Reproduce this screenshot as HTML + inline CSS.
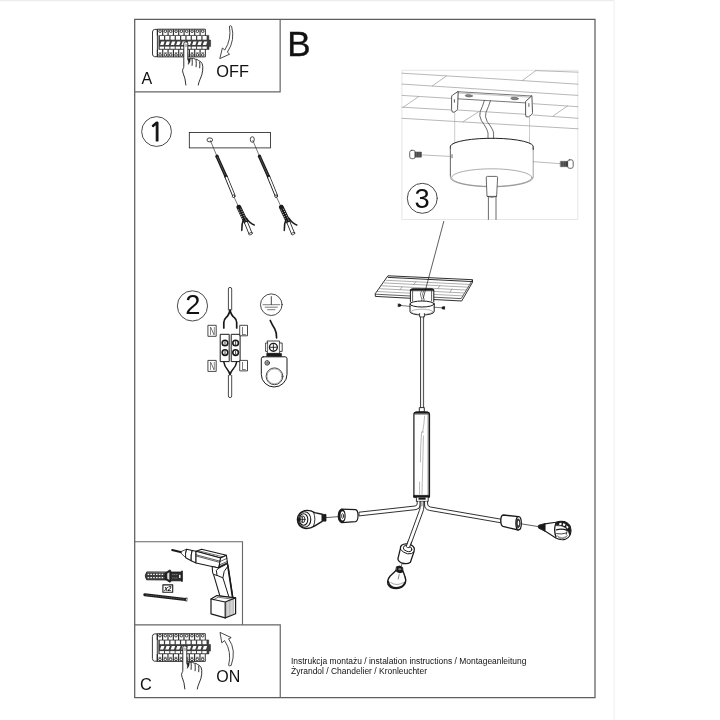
<!DOCTYPE html>
<html lang="pl"><head><meta charset="utf-8"><title>Instrukcja montażu</title>
<style>html,body{margin:0;padding:0;background:#fff}svg{display:block;filter:grayscale(1)}</style></head>
<body><svg width="720" height="720" viewBox="0 0 720 720">
<rect width="720" height="720" fill="#fff"/>
<g fill="none" stroke="#5e5e5e" stroke-width="1.25">
<path d="M134.7 19.45 H595 V697.5 H134.7 Z"/>
</g>
<g fill="none" stroke="#666" stroke-width="1.2">
<path d="M280.15 19.4V91.85H134.7"/>
<path d="M134.7 541.7H242.5V624.9" stroke-width="1.1"/>
<path d="M134.7 624.9H280.25V697.5"/>
</g>
<rect x="0" y="0" width="614" height="1.2" fill="#ececec"/>
<rect x="613.5" y="0" width="1.4" height="720" fill="#f4f4f4"/>
<g transform="translate(152.2 29.2)" stroke="#222" fill="none" stroke-width="0.9" stroke-linejoin="round"><path d="M5.2 0.2 H2.4 Q0.3 0.5 0.3 2.8 V24.8 Q0.3 27.2 2.4 27.5 H5.2" fill="#fff" stroke-width="0.9"/><rect x="5.2" y="0" width="48" height="27.7" fill="#fff"/><path d="M6.6 6.2 H56.6 V10.8 H58.4 V17.4 H56.8 V20.2 H6.6 Z" fill="#3c3c3c" stroke-width="0.5"/><path d="M5.20 0V6.2" stroke-width="1.1"/><circle cx="7.87" cy="2" r="1.3" stroke-width="0.9"/><rect x="7.70" y="6.8" width="4.1" height="3.7" fill="#fff" stroke="none"/><path d="M7.90 15.9 L9.10 12.4 H12.40 L11.20 15.9 Z" fill="#fff" stroke="none"/><rect x="7.50" y="17.4" width="4.4" height="2.2" fill="#fff" stroke="none"/><path d="M5.20 20.2V27.7" stroke-width="1.1"/><circle cx="7.87" cy="25.7" r="1.3" stroke-width="0.9"/><path d="M6.40 23.6 H9.33" stroke-width="0.6"/><path d="M10.53 0V6.2" stroke-width="1.1"/><circle cx="13.20" cy="2" r="1.3" stroke-width="0.9"/><rect x="13.03" y="6.8" width="4.1" height="3.7" fill="#fff" stroke="none"/><path d="M13.23 15.9 L14.43 12.4 H17.73 L16.53 15.9 Z" fill="#fff" stroke="none"/><rect x="12.83" y="17.4" width="4.4" height="2.2" fill="#fff" stroke="none"/><path d="M10.53 20.2V27.7" stroke-width="1.1"/><circle cx="13.20" cy="25.7" r="1.3" stroke-width="0.9"/><path d="M11.73 23.6 H14.67" stroke-width="0.6"/><path d="M15.87 0V6.2" stroke-width="1.1"/><circle cx="18.53" cy="2" r="1.3" stroke-width="0.9"/><rect x="18.37" y="6.8" width="4.1" height="3.7" fill="#fff" stroke="none"/><path d="M18.57 15.9 L19.77 12.4 H23.07 L21.87 15.9 Z" fill="#fff" stroke="none"/><rect x="18.17" y="17.4" width="4.4" height="2.2" fill="#fff" stroke="none"/><path d="M15.87 20.2V27.7" stroke-width="1.1"/><circle cx="18.53" cy="25.7" r="1.3" stroke-width="0.9"/><path d="M17.07 23.6 H20.00" stroke-width="0.6"/><path d="M21.20 0V6.2" stroke-width="1.1"/><circle cx="23.87" cy="2" r="1.3" stroke-width="0.9"/><rect x="23.70" y="6.8" width="4.1" height="3.7" fill="#fff" stroke="none"/><path d="M23.90 15.9 L25.10 12.4 H28.40 L27.20 15.9 Z" fill="#fff" stroke="none"/><rect x="23.50" y="17.4" width="4.4" height="2.2" fill="#fff" stroke="none"/><path d="M21.20 20.2V27.7" stroke-width="1.1"/><circle cx="23.87" cy="25.7" r="1.3" stroke-width="0.9"/><path d="M22.40 23.6 H25.33" stroke-width="0.6"/><path d="M26.53 0V6.2" stroke-width="1.1"/><circle cx="29.20" cy="2" r="1.3" stroke-width="0.9"/><rect x="29.03" y="6.8" width="4.1" height="3.7" fill="#fff" stroke="none"/><path d="M29.23 15.9 L30.43 12.4 H33.73 L32.53 15.9 Z" fill="#fff" stroke="none"/><rect x="28.83" y="17.4" width="4.4" height="2.2" fill="#fff" stroke="none"/><path d="M26.53 20.2V27.7" stroke-width="1.1"/><circle cx="29.20" cy="25.7" r="1.3" stroke-width="0.9"/><path d="M27.73 23.6 H30.67" stroke-width="0.6"/><path d="M31.87 0V6.2" stroke-width="1.1"/><circle cx="34.53" cy="2" r="1.3" stroke-width="0.9"/><rect x="34.37" y="6.8" width="4.1" height="3.7" fill="#fff" stroke="none"/><path d="M34.57 15.9 L35.77 12.4 H39.07 L37.87 15.9 Z" fill="#fff" stroke="none"/><rect x="34.17" y="17.4" width="4.4" height="2.2" fill="#fff" stroke="none"/><path d="M31.87 20.2V27.7" stroke-width="1.1"/><circle cx="34.53" cy="25.7" r="1.3" stroke-width="0.9"/><path d="M33.07 23.6 H36.00" stroke-width="0.6"/><path d="M37.20 0V6.2" stroke-width="1.1"/><circle cx="39.87" cy="2" r="1.3" stroke-width="0.9"/><rect x="39.70" y="6.8" width="4.1" height="3.7" fill="#fff" stroke="none"/><path d="M39.90 15.9 L41.10 12.4 H44.40 L43.20 15.9 Z" fill="#fff" stroke="none"/><rect x="39.50" y="17.4" width="4.4" height="2.2" fill="#fff" stroke="none"/><path d="M37.20 20.2V27.7" stroke-width="1.1"/><circle cx="39.87" cy="25.7" r="1.3" stroke-width="0.9"/><path d="M38.40 23.6 H41.33" stroke-width="0.6"/><path d="M42.53 0V6.2" stroke-width="1.1"/><circle cx="45.20" cy="2" r="1.3" stroke-width="0.9"/><rect x="45.03" y="6.8" width="4.1" height="3.7" fill="#fff" stroke="none"/><path d="M45.23 15.9 L46.43 12.4 H49.73 L48.53 15.9 Z" fill="#fff" stroke="none"/><rect x="44.83" y="17.4" width="4.4" height="2.2" fill="#fff" stroke="none"/><path d="M42.53 20.2V27.7" stroke-width="1.1"/><circle cx="45.20" cy="25.7" r="1.3" stroke-width="0.9"/><path d="M43.73 23.6 H46.67" stroke-width="0.6"/><path d="M47.87 0V6.2" stroke-width="1.1"/><circle cx="50.53" cy="2" r="1.3" stroke-width="0.9"/><rect x="50.37" y="6.8" width="4.1" height="3.7" fill="#fff" stroke="none"/><path d="M50.57 15.9 L51.77 12.4 H55.07 L53.87 15.9 Z" fill="#fff" stroke="none"/><rect x="50.17" y="17.4" width="4.4" height="2.2" fill="#fff" stroke="none"/><path d="M47.87 20.2V27.7" stroke-width="1.1"/><circle cx="50.53" cy="25.7" r="1.3" stroke-width="0.9"/><path d="M49.07 23.6 H52.00" stroke-width="0.6"/></g>
<g transform="translate(183.7 41.8)" stroke="#1a1a1a" fill="#fff" stroke-width="0.9" stroke-linejoin="round" stroke-linecap="round"><path d="M2.2 43.2 Q1.6 36 -0.6 31.4 Q-1.8 28.6 -0.6 26.8 Q0.1 26 0.1 24.4 V1.8 Q0.1 0 2.1 0 Q4.1 0 4.1 1.8 V17.4 Q6 15.8 8.2 16.6 Q9.8 16.0 11.4 17.4 Q13.6 17.2 15 18.8 Q17.2 19.4 18.4 21.8 Q19.4 24 19 28.4 Q18.6 33 16.4 37.4 Q15 40.4 14.6 43.2" /><path d="M8.4 17.4 Q8.8 20.4 8.4 23.6 M12.4 18.6 Q12.8 21.4 12.4 25 M16 20.4 Q16.4 23 16 26" fill="none"/><path d="M4.1 17.4 Q5.2 19.8 4.6 22.6 Q6.8 20.4 6.6 17" fill="#1a1a1a" stroke-width="0.5"/><path d="M0.9 2.2 Q2.1 1.2 3.3 2.2 V5.2 H0.9 Z" fill="#bbb" stroke="none"/></g>
<path d="M229.4 26.2 Q230.6 25.2 231.6 26.4 Q235.4 40 227.4 52.2 L229.6 54.2 L219.8 58.6 L222.4 48 L224.8 50 Q231.6 39.6 229.4 26.2 Z" fill="#fff" stroke="#1a1a1a" stroke-width="0.8" stroke-linejoin="round"/>
<circle cx="156.55" cy="131.55" r="14.9" fill="none" stroke="#4a4a4a" stroke-width="1"/>
<rect x="189.3" y="132.4" width="81.2" height="15.5" fill="none" stroke="#1a1a1a" stroke-width="0.8"/>
<ellipse cx="209.8" cy="139.9" rx="2.8" ry="2" fill="none" stroke="#1a1a1a" stroke-width="0.8"/>
<ellipse cx="252.3" cy="139.5" rx="2" ry="2.8" fill="none" stroke="#1a1a1a" stroke-width="0.8"/>
<g transform="translate(0 0)" stroke="#1a1a1a" fill="none" stroke-linecap="round"><path d="M210.4 140.6 L216.6 155.4" stroke-width="0.6"/><circle cx="217" cy="156.2" r="1.6" fill="#1a1a1a" stroke="none"/><path d="M217.2 156.8 L226.2 177" stroke-width="3.1"/><path d="M217.4 157.2 L226 176.6" stroke="#999" stroke-width="0.5" stroke-dasharray="0.6 1.1"/><path d="M226 176.6 L233.8 195.6" stroke-width="3.3"/><path d="M226.5 177.6 L233.5 194.8" stroke="#fff" stroke-width="1.7"/><circle cx="233.6" cy="196.2" r="1.3" fill="#fff" stroke-width="0.8"/><path d="M234.2 197.4 L238.4 206.4" stroke-width="0.6"/><path d="M238.9 207.2 L245.6 221.4" stroke-width="4.8"/><path d="M238.5 209.6 L244.2 221.8" stroke="#fff" stroke-width="0.9" stroke-dasharray="0.9 1.5" stroke-linecap="butt"/><path d="M240.7 208.8 L246.4 220.8" stroke="#fff" stroke-width="0.9" stroke-dasharray="0.9 1.5" stroke-linecap="butt"/><path d="M245.6 221.4 L250.6 233.8" stroke-width="3.9" stroke-linecap="butt"/><path d="M245.9 222.2 L250.4 233.2" stroke="#fff" stroke-width="2.3" stroke-linecap="butt"/><ellipse cx="250.6" cy="233.7" rx="1.9" ry="1" transform="rotate(-22 250.6 233.7)" fill="#fff" stroke-width="0.7"/><path d="M243.8 218.6 Q241.4 224 241.8 230.4" stroke-width="1.5"/><path d="M246.4 218.2 Q249.6 223.4 254.2 225" stroke-width="1.5"/></g>
<g transform="translate(42.5 0)" stroke="#1a1a1a" fill="none" stroke-linecap="round"><path d="M210.4 140.6 L216.6 155.4" stroke-width="0.6"/><circle cx="217" cy="156.2" r="1.6" fill="#1a1a1a" stroke="none"/><path d="M217.2 156.8 L226.2 177" stroke-width="3.1"/><path d="M217.4 157.2 L226 176.6" stroke="#999" stroke-width="0.5" stroke-dasharray="0.6 1.1"/><path d="M226 176.6 L233.8 195.6" stroke-width="3.3"/><path d="M226.5 177.6 L233.5 194.8" stroke="#fff" stroke-width="1.7"/><circle cx="233.6" cy="196.2" r="1.3" fill="#fff" stroke-width="0.8"/><path d="M234.2 197.4 L238.4 206.4" stroke-width="0.6"/><path d="M238.9 207.2 L245.6 221.4" stroke-width="4.8"/><path d="M238.5 209.6 L244.2 221.8" stroke="#fff" stroke-width="0.9" stroke-dasharray="0.9 1.5" stroke-linecap="butt"/><path d="M240.7 208.8 L246.4 220.8" stroke="#fff" stroke-width="0.9" stroke-dasharray="0.9 1.5" stroke-linecap="butt"/><path d="M245.6 221.4 L250.6 233.8" stroke-width="3.9" stroke-linecap="butt"/><path d="M245.9 222.2 L250.4 233.2" stroke="#fff" stroke-width="2.3" stroke-linecap="butt"/><ellipse cx="250.6" cy="233.7" rx="1.9" ry="1" transform="rotate(-22 250.6 233.7)" fill="#fff" stroke-width="0.7"/><path d="M243.8 218.6 Q241.4 224 241.8 230.4" stroke-width="1.5"/><path d="M246.4 218.2 Q249.6 223.4 254.2 225" stroke-width="1.5"/></g>
<circle cx="192.45" cy="305.9" r="15.1" fill="none" stroke="#4a4a4a" stroke-width="1"/>
<g stroke="#1a1a1a" fill="none" stroke-linecap="round" stroke-linejoin="round"><path d="M228.4 310 V289 Q228.4 287.4 230 287.4 Q231.7 287.4 231.7 289 V310" stroke-width="0.8" fill="#fff"/><path d="M230 310 Q228.8 315.5 226 317.6 Q223.8 319.6 223.8 322.4 V328" stroke-width="1.7"/><path d="M230 310 Q231.2 315.5 234.4 317.6 Q236.7 319.6 236.7 322.4 V328" stroke-width="1.7"/><rect x="220.6" y="334.3" width="8.6" height="27.3" stroke-width="1" fill="#fff"/><rect x="231.6" y="334.3" width="8.5" height="27.3" stroke-width="1" fill="#fff"/><circle cx="225" cy="343" r="2.8" stroke-width="1.6" fill="#fff"/><path d="M225 341.5V344.5" stroke-width="0.8"/><circle cx="225" cy="352.6" r="2.8" stroke-width="1.6" fill="#fff"/><path d="M225 351.1V354.1" stroke-width="0.8"/><circle cx="235.6" cy="343" r="2.8" stroke-width="1.6" fill="#fff"/><path d="M235.6 341.5V344.5" stroke-width="0.8"/><circle cx="235.6" cy="352.6" r="2.8" stroke-width="1.6" fill="#fff"/><path d="M235.6 351.1V354.1" stroke-width="0.8"/><path d="M228.6 346.6 L232 349.4 M232 346.6 L228.6 349.4" stroke-width="0.5" stroke="#888"/><rect x="208.3" y="325.3" width="7.9" height="11" stroke-width="0.9" stroke="#333" fill="#fff"/><rect x="240.1" y="325.3" width="7.4" height="10.5" stroke-width="0.9" stroke="#333" fill="#fff"/><rect x="208.3" y="360.4" width="7.9" height="11" stroke-width="0.9" stroke="#333" fill="#fff"/><rect x="240.1" y="360.4" width="7.4" height="10.5" stroke-width="0.9" stroke="#333" fill="#fff"/><path d="M223.8 361.8 Q224.4 366 227.4 369.6 Q229.4 372 230 375" stroke-width="1.5"/><path d="M236.7 361.8 Q236 366 232.8 369.6 Q230.6 372 230 375" stroke-width="1.5"/><path d="M228.4 375.4 V396 Q228.4 397.6 230 397.6 Q231.7 397.6 231.7 396 V375.4" stroke-width="0.8" fill="#fff"/><circle cx="271.3" cy="304.7" r="10.8" stroke-width="0.8"/><path d="M271.3 296.6V304.6" stroke-width="0.8"/><path d="M263 304.7H279.7 M265.2 307.2H277.4 M267.6 309.7H275" stroke-width="0.7" stroke="#444"/><path d="M270.2 320.4 Q272.2 325 274.8 329 Q276.8 332.6 276.6 338" stroke-width="1.6"/><path d="M267.4 341 H279.6 V343 H282.2 V351.4 H279.6 V353.4 H267.4 V351.4 H265.6 V343 H267.4 Z" stroke-width="0.8" fill="#fff"/><circle cx="273.4" cy="347.3" r="3.9" stroke-width="1.4" fill="#fff"/><path d="M273.4 344.6V350 M270.7 347.3H276.1" stroke-width="0.9"/><path d="M267.6 343.4V351 M279.4 343.4V351" stroke-width="0.7"/><rect x="266.8" y="353.4" width="14.8" height="3.3" fill="#1a1a1a" stroke-width="0.5"/><path d="M263.2 356.8 H285.2 Q287 356.8 287 358.8 V374.4 A12.85 12.6 0 0 1 261.3 374.4 V358.8 Q261.3 356.8 263.2 356.8 Z" stroke-width="1" fill="#fff"/><circle cx="274.5" cy="376.3" r="8.4" stroke-width="0.8"/><circle cx="274.5" cy="376.3" r="7.4" stroke-width="0.5" stroke="#666"/><circle cx="267.2" cy="362.9" r="2.3" stroke-width="0.8"/><path d="M267.2 361V362.8 M265.6 362.9H268.8 M266.2 364H268.2" stroke-width="0.6"/></g>
<g stroke="#1a1a1a" fill="none" stroke-linecap="round" stroke-linejoin="round" stroke-width="0.8"><path d="M172.2 550 L181.4 552.3" stroke-width="2.1"/><path d="M181.4 551.4 L186.6 549.2 Q185 553.4 185.7 557.7 L181.4 553.6 Z" fill="#fff"/><path d="M186.6 549.2 L192.2 550.4 Q190.6 555.4 191.2 560.7 L185.7 557.7 Q185 553.4 186.6 549.2 Z" fill="#fff" stroke-width="1.05"/><path d="M192.2 550.4 L196 551.2 V563 L191.2 560.7 Q190.6 555.4 192.2 550.4 Z" fill="#fff" stroke-width="1.05"/><path d="M196 551.2 L201.6 549.3 L226.4 555.3 L220.6 558 Z" fill="#fff" stroke-width="1.05"/><path d="M199.4 551 L223.6 557" stroke-width="0.6"/><path d="M196 551.2 L220.6 558 L218.8 568 L196 563 Z" fill="#fff" stroke-width="1.05"/><path d="M196.2 554.8 L220 561.2 M196.2 556 L219.8 562.4" stroke-width="0.7"/><path d="M220.6 558 L226.4 555.3 L227.6 563.6 L218.8 568 Z" fill="#fff" stroke-width="1.05"/><path d="M220.4 561.4 L226.8 558.4 M219.4 565 L227.2 561.4" stroke-width="0.7"/><path d="M219 566.6 L227.4 562.6 L227.6 563.8 L218.8 568 Z" fill="#1a1a1a" stroke-width="0.5"/><path d="M212.2 566.6 L212.6 572.4 L214.2 576.6 L219.9 596 L232.9 597.9 L227.6 563.6 L218.8 568 Z" fill="#fff" stroke-width="1.05"/><path d="M214.2 574.6 L217 575.4 L222.9 577.8 L228.8 596.6 M217 575.4 L216.4 570.4 L218.8 568 M222.9 577.8 L224.2 571.4 L227.6 566.6" stroke-width="1"/><path d="M227.8 565.4 L232.6 597.4" stroke-width="1.7"/><path d="M211 599 L216.9 595.6 L235.6 597.9 L235.6 613.8 L225.2 617.9 L211 613.8 Z" fill="#fff" stroke-width="1.2"/><path d="M211 599 L225.2 602 L235.6 597.9 M225.2 602 V617.9" stroke-width="1.2"/><path d="M213.6 599.8 L218 597.2 L232.6 599.2" stroke-width="0.6"/><path d="M226.6 602.4 V617 M228 601.8 V616.6 M229.4 601.2 V616 M230.8 600.6 V615.4 M232.2 600 V614.8 M233.6 599.6 V614.4" stroke-width="0.5" stroke="#666"/><path d="M146.6 572.2 Q143.8 575.8 146.6 579.8 L166.4 580 L166.4 572.4 Z" fill="#3d3d3d" stroke-width="0.8"/><path d="M147.6 574.4 H165.6 M147.6 577.6 H165.6" stroke="#f4f4f4" stroke-width="1.3" stroke-dasharray="1.6 1.2" stroke-linecap="butt"/><path d="M164.6 573.2 L169.6 570 L170.8 570.4 V581.8 L169.6 582.2 L164.6 579 Z" fill="#222" stroke-width="0.7"/><path d="M167.2 573.6 L169.4 572.2 V580 L167.2 578.6 Z" fill="#ddd" stroke="none"/><rect x="170.8" y="572" width="11" height="8.8" fill="#2e2e2e" stroke-width="0.8"/><path d="M172.4 574.6 H178 M172.4 578 H178" stroke="#bbb" stroke-width="0.8" stroke-dasharray="1 1" stroke-linecap="butt"/><rect x="179" y="574.8" width="1.5" height="3.2" fill="#eee" stroke="none"/><path d="M182 571.2 V581.3" stroke-width="1.5"/><rect x="162.9" y="584.9" width="9.8" height="7.3" fill="#fff" stroke-width="1.1"/><path d="M144.8 594.7 L185.6 599.4" stroke-width="3"/><path d="M146 594.9 L184 599.2" stroke="#888" stroke-width="0.5" stroke-dasharray="0.5 1.3"/><path d="M186.6 597.6 L186.2 601.4" stroke-width="2" stroke="#333" stroke-linecap="butt"/><path d="M186.7 598.5 L186.5 600.5" stroke-width="0.9" stroke="#ddd" stroke-linecap="butt"/></g>
<g transform="translate(152.1 633.7)" stroke="#222" fill="none" stroke-width="0.9" stroke-linejoin="round"><path d="M5.2 0.2 H2.4 Q0.3 0.5 0.3 2.8 V24.8 Q0.3 27.2 2.4 27.5 H5.2" fill="#fff" stroke-width="0.9"/><rect x="5.2" y="0" width="48" height="27.7" fill="#fff"/><path d="M6.6 6.2 H56.6 V10.8 H58.4 V17.4 H56.8 V20.2 H6.6 Z" fill="#3c3c3c" stroke-width="0.5"/><path d="M5.20 0V6.2" stroke-width="1.1"/><circle cx="7.87" cy="2" r="1.3" stroke-width="0.9"/><rect x="7.70" y="6.8" width="4.1" height="3.7" fill="#fff" stroke="none"/><path d="M7.90 15.9 L9.10 12.4 H12.40 L11.20 15.9 Z" fill="#fff" stroke="none"/><rect x="7.50" y="17.4" width="4.4" height="2.2" fill="#fff" stroke="none"/><path d="M5.20 20.2V27.7" stroke-width="1.1"/><circle cx="7.87" cy="25.7" r="1.3" stroke-width="0.9"/><path d="M6.40 23.6 H9.33" stroke-width="0.6"/><path d="M10.53 0V6.2" stroke-width="1.1"/><circle cx="13.20" cy="2" r="1.3" stroke-width="0.9"/><rect x="13.03" y="6.8" width="4.1" height="3.7" fill="#fff" stroke="none"/><path d="M13.23 15.9 L14.43 12.4 H17.73 L16.53 15.9 Z" fill="#fff" stroke="none"/><rect x="12.83" y="17.4" width="4.4" height="2.2" fill="#fff" stroke="none"/><path d="M10.53 20.2V27.7" stroke-width="1.1"/><circle cx="13.20" cy="25.7" r="1.3" stroke-width="0.9"/><path d="M11.73 23.6 H14.67" stroke-width="0.6"/><path d="M15.87 0V6.2" stroke-width="1.1"/><circle cx="18.53" cy="2" r="1.3" stroke-width="0.9"/><rect x="18.37" y="6.8" width="4.1" height="3.7" fill="#fff" stroke="none"/><path d="M18.57 15.9 L19.77 12.4 H23.07 L21.87 15.9 Z" fill="#fff" stroke="none"/><rect x="18.17" y="17.4" width="4.4" height="2.2" fill="#fff" stroke="none"/><path d="M15.87 20.2V27.7" stroke-width="1.1"/><circle cx="18.53" cy="25.7" r="1.3" stroke-width="0.9"/><path d="M17.07 23.6 H20.00" stroke-width="0.6"/><path d="M21.20 0V6.2" stroke-width="1.1"/><circle cx="23.87" cy="2" r="1.3" stroke-width="0.9"/><rect x="23.70" y="6.8" width="4.1" height="3.7" fill="#fff" stroke="none"/><path d="M23.90 15.9 L25.10 12.4 H28.40 L27.20 15.9 Z" fill="#fff" stroke="none"/><rect x="23.50" y="17.4" width="4.4" height="2.2" fill="#fff" stroke="none"/><path d="M21.20 20.2V27.7" stroke-width="1.1"/><circle cx="23.87" cy="25.7" r="1.3" stroke-width="0.9"/><path d="M22.40 23.6 H25.33" stroke-width="0.6"/><path d="M26.53 0V6.2" stroke-width="1.1"/><circle cx="29.20" cy="2" r="1.3" stroke-width="0.9"/><rect x="29.03" y="6.8" width="4.1" height="3.7" fill="#fff" stroke="none"/><path d="M29.23 15.9 L30.43 12.4 H33.73 L32.53 15.9 Z" fill="#fff" stroke="none"/><rect x="28.83" y="17.4" width="4.4" height="2.2" fill="#fff" stroke="none"/><path d="M26.53 20.2V27.7" stroke-width="1.1"/><circle cx="29.20" cy="25.7" r="1.3" stroke-width="0.9"/><path d="M27.73 23.6 H30.67" stroke-width="0.6"/><path d="M31.87 0V6.2" stroke-width="1.1"/><circle cx="34.53" cy="2" r="1.3" stroke-width="0.9"/><rect x="34.37" y="6.8" width="4.1" height="3.7" fill="#fff" stroke="none"/><path d="M34.57 15.9 L35.77 12.4 H39.07 L37.87 15.9 Z" fill="#fff" stroke="none"/><rect x="34.17" y="17.4" width="4.4" height="2.2" fill="#fff" stroke="none"/><path d="M31.87 20.2V27.7" stroke-width="1.1"/><circle cx="34.53" cy="25.7" r="1.3" stroke-width="0.9"/><path d="M33.07 23.6 H36.00" stroke-width="0.6"/><path d="M37.20 0V6.2" stroke-width="1.1"/><circle cx="39.87" cy="2" r="1.3" stroke-width="0.9"/><rect x="39.70" y="6.8" width="4.1" height="3.7" fill="#fff" stroke="none"/><path d="M39.90 15.9 L41.10 12.4 H44.40 L43.20 15.9 Z" fill="#fff" stroke="none"/><rect x="39.50" y="17.4" width="4.4" height="2.2" fill="#fff" stroke="none"/><path d="M37.20 20.2V27.7" stroke-width="1.1"/><circle cx="39.87" cy="25.7" r="1.3" stroke-width="0.9"/><path d="M38.40 23.6 H41.33" stroke-width="0.6"/><path d="M42.53 0V6.2" stroke-width="1.1"/><circle cx="45.20" cy="2" r="1.3" stroke-width="0.9"/><rect x="45.03" y="6.8" width="4.1" height="3.7" fill="#fff" stroke="none"/><path d="M45.23 15.9 L46.43 12.4 H49.73 L48.53 15.9 Z" fill="#fff" stroke="none"/><rect x="44.83" y="17.4" width="4.4" height="2.2" fill="#fff" stroke="none"/><path d="M42.53 20.2V27.7" stroke-width="1.1"/><circle cx="45.20" cy="25.7" r="1.3" stroke-width="0.9"/><path d="M43.73 23.6 H46.67" stroke-width="0.6"/><path d="M47.87 0V6.2" stroke-width="1.1"/><circle cx="50.53" cy="2" r="1.3" stroke-width="0.9"/><rect x="50.37" y="6.8" width="4.1" height="3.7" fill="#fff" stroke="none"/><path d="M50.57 15.9 L51.77 12.4 H55.07 L53.87 15.9 Z" fill="#fff" stroke="none"/><rect x="50.17" y="17.4" width="4.4" height="2.2" fill="#fff" stroke="none"/><path d="M47.87 20.2V27.7" stroke-width="1.1"/><circle cx="50.53" cy="25.7" r="1.3" stroke-width="0.9"/><path d="M49.07 23.6 H52.00" stroke-width="0.6"/></g>
<g transform="translate(182.7 645.8)" stroke="#1a1a1a" fill="#fff" stroke-width="0.9" stroke-linejoin="round" stroke-linecap="round"><path d="M2.2 43.2 Q1.6 36 -0.6 31.4 Q-1.8 28.6 -0.6 26.8 Q0.1 26 0.1 24.4 V1.8 Q0.1 0 2.1 0 Q4.1 0 4.1 1.8 V17.4 Q6 15.8 8.2 16.6 Q9.8 16.0 11.4 17.4 Q13.6 17.2 15 18.8 Q17.2 19.4 18.4 21.8 Q19.4 24 19 28.4 Q18.6 33 16.4 37.4 Q15 40.4 14.6 43.2" /><path d="M8.4 17.4 Q8.8 20.4 8.4 23.6 M12.4 18.6 Q12.8 21.4 12.4 25 M16 20.4 Q16.4 23 16 26" fill="none"/><path d="M4.1 17.4 Q5.2 19.8 4.6 22.6 Q6.8 20.4 6.6 17" fill="#1a1a1a" stroke-width="0.5"/><path d="M0.9 2.2 Q2.1 1.2 3.3 2.2 V5.2 H0.9 Z" fill="#bbb" stroke="none"/></g>
<path d="M228.6 665.4 Q229.6 666.4 231.2 665.4 Q236.6 650 228.6 638.8 L231.2 637.6 L220 632.4 L221.8 642.8 L224.6 640.6 Q232 651.6 228.6 665.4 Z" fill="#fff" stroke="#1a1a1a" stroke-width="0.8" stroke-linejoin="round"/>
<g fill="none" stroke-linecap="round" stroke-linejoin="round"><rect x="402.3" y="70.3" width="175.5" height="149.2" stroke="#e6e6e6" stroke-width="1"/><g stroke="#9a9a9a" stroke-width="0.7"><path d="M402 73.2 L495 78.8 L578 84.2"/><path d="M535.8 70.6 L578 72.2 M535.8 70.6 L522.5 80.4"/><path d="M402 84.1 L577.8 95.4"/><path d="M446.4 76 L432.5 85.8"/><path d="M402 95.4 L451 98.4"/><path d="M418.6 96.6 L403.3 107.2"/><path d="M402 107.2 L451.6 110 M457.6 110 L525.6 114.3"/><path d="M402 118.3 L578 128.8"/><path d="M478.3 112 L463 121.8"/><path d="M533 103.7 L578 106.7"/><path d="M567.5 106 L553.3 115.8"/><path d="M533 115 L578 118.3"/></g><g stroke="#555" stroke-width="0.8"><path d="M457.9 91.7 L531.9 96 L525.6 102.9 L457.5 98.8 Z" fill="#fff"/><path d="M458.4 93 L530.6 97.2" stroke="#999" stroke-width="0.6"/><path d="M457.9 91.7 L452.6 95 Q451.6 95.6 451.6 97 V109.6 Q451.7 112.9 454 112.3 L456.6 110.6 Q457.6 110 457.6 108.6 Z" fill="#fff" stroke="#444" stroke-width="0.9"/><path d="M531.9 96 L532.5 112.6 Q532.5 114 531.4 114.8 L528.6 116.8 Q525.6 117.8 525.6 115 V101.8 Z" fill="#fff" stroke="#444" stroke-width="0.9"/><path d="M454.4 99.6V102.2 M528.9 103.6V106.4" stroke="#333" stroke-width="0.8"/><ellipse cx="468.8" cy="95.8" rx="3.6" ry="1.1" fill="#888" stroke="#666" transform="rotate(3.4 468.8 95.8)"/><ellipse cx="514.6" cy="98.5" rx="3.8" ry="1.2" fill="#888" stroke="#666" transform="rotate(3.4 514.6 98.5)"/></g><path d="M454.7 112.8 V143.4 M529.5 116.8 V143.6" stroke="#999" stroke-width="0.5"/><path d="M484.4 100.4 Q482.6 106.6 480.2 111.6 Q478.8 115.6 481.4 120.6 Q487.4 129 488 133 V138.6 M490.4 100.8 Q488.6 106.6 486 112.4 Q484.4 116.4 487.2 121.6 Q493 129 493.6 133 V138.6" stroke="#444" stroke-width="0.8"/><path d="M450.4 147.4 V177.4 A41.4 9.4 0 0 0 533.2 177.4 V147.4" stroke="#8a8a8a" stroke-width="0.8" fill="#fff"/><ellipse cx="491.8" cy="177.6" rx="40.2" ry="8.8" stroke="#8a8a8a" stroke-width="0.7"/><path d="M450.4 148.6 V146 A41.4 8.4 0 0 1 533.2 147.4 V149.4" stroke="#222" stroke-width="1"/><path d="M450.4 147.4 V176" stroke="#666" stroke-width="0.8"/><path d="M452 154.6V157.8" stroke="#444" stroke-width="0.8"/><path d="M486.2 177.6 Q486 176.4 487.4 176.4 H496.4 Q497.8 176.4 497.6 177.6 L496.6 196.4 H487.4 Z" stroke="#444" stroke-width="0.8" fill="#fff"/><path d="M487.4 196.4 Q492 198.4 496.6 196.4 M488.4 196.8 V219.4 M496 196.8 V219.4" stroke="#444" stroke-width="0.8"/><path d="M421.6 154.9 L450.2 156.4 M533.4 161.7 L560.4 163.7" stroke="#777" stroke-width="0.5"/><rect x="409.7" y="150.3" width="5.5" height="8.4" rx="2" fill="#fff" stroke="#555" stroke-width="0.9"/><rect x="415.2" y="152" width="6.2" height="5.2" fill="#3a3a3a" stroke="#333" stroke-width="0.4"/><path d="M416.6 152V157.2 M418.2 152V157.2 M419.8 152V157.2" stroke="#aaa" stroke-width="0.4"/><rect x="567.6" y="159.8" width="5.6" height="8.5" rx="2" fill="#fff" stroke="#555" stroke-width="0.9"/><rect x="560.6" y="161.3" width="7" height="5.4" fill="#3a3a3a" stroke="#333" stroke-width="0.4"/><path d="M562 161.3V166.7 M563.6 161.3V166.7 M565.2 161.3V166.7" stroke="#aaa" stroke-width="0.4"/><circle cx="422.3" cy="198.3" r="15" stroke="#4a4a4a" stroke-width="1"/></g>
<g fill="none" stroke="#1a1a1a" stroke-linecap="round" stroke-linejoin="round" stroke-width="0.9"><path d="M388.3 275.8 L472.5 279.7 L472.5 282.3 L461.7 301 L375.3 296.4 L375.3 294 Z" fill="#fff" stroke-width="0.9"/><path d="M388.3 277.4 L472.5 281.6" stroke-width="0.9"/><path d="M375.3 294.2 L461.2 298.6 L472.3 280.2" stroke-width="0.7"/><path d="M386.1 280.3 L470.6 284.5" stroke="#777" stroke-width="0.6"/><path d="M384.0 282.9 L468.8 287.2" stroke="#777" stroke-width="0.6"/><path d="M381.8 285.8 L466.9 290.1" stroke="#777" stroke-width="0.6"/><path d="M379.6 288.7 L464.9 293.0" stroke="#777" stroke-width="0.6"/><path d="M377.4 291.5 L463.0 295.9" stroke="#777" stroke-width="0.6"/><path d="M416 281.6 L413.6 284.6 M440 285.6 L438 288.4 M402 287 L400 289.8 M452 289 L450 292 M430 291.2 L428 294" stroke="#777" stroke-width="0.6"/><path d="M410.4 302 V289.6 H433.8 V302" fill="#fff" stroke-width="1"/><path d="M410.6 290.4 Q410.6 288.6 412.4 288.6 H431.8 Q433.6 288.6 433.6 290.4 Z" fill="#1a1a1a" stroke-width="0.6"/><path d="M412.6 291V301 M431.6 291V301" stroke-width="0.7"/><path d="M421.4 291 Q419.4 294 421 296.6 Q422.6 299 421.6 301.6 M423.6 291 Q421.6 294 423.2 296.6 Q424.8 299 423.8 301.6" stroke-width="0.6"/><path d="M410 304 V311.6 A12.1 3.4 0 0 0 434.2 311.6 V304" fill="#fff" stroke-width="1"/><ellipse cx="422.1" cy="304" rx="12.1" ry="3" fill="#fff" stroke-width="1"/><ellipse cx="422.1" cy="311.8" rx="11" ry="2.6" stroke-width="0.5" stroke="#666"/><path d="M443.8 221.4 L423.2 298.4" stroke-width="0.7"/><path d="M400 305.4 L410 306.4 M434.2 307.2 L443 307.9" stroke-width="0.6"/><circle cx="399.6" cy="305.3" r="1.2" fill="#1a1a1a"/><circle cx="443.2" cy="307.9" r="1.2" fill="#1a1a1a"/><path d="M398.2 303.8 L398.2 306.8 M444.6 306.4 L444.6 309.4" stroke-width="0.7"/><path d="M419.6 313.6 V317 H424.4 V313.6" fill="#fff" stroke-width="0.8"/><path d="M420.5 317 V407.6 M423.6 317 V407.6" stroke-width="0.8"/><path d="M422 317 V407.6" stroke="#bbb" stroke-width="0.5"/><path d="M419.7 407.6 H424.3 V412 H419.7 Z" fill="#fff" stroke-width="0.9"/><path d="M413.9 414 Q413.9 412.2 416 412 H427.4 Q429.5 412.2 429.5 414 V496.6 H413.9 Z" fill="#fff" stroke-width="1.2"/><path d="M414.4 413.6 Q414.6 412.2 416 412 H427.4 Q429 412.2 429 413.6 Z" fill="#1a1a1a" stroke-width="0.8"/><path d="M428.2 414.6 V495" stroke-width="0.7"/><path d="M421.6 432 Q420.4 446 420.4 462 M424.6 416 Q424.2 424 422.6 432 M422.6 432 H423.6 M423.4 436 Q422.6 470 422 494 M419.6 482 V494" stroke="#888" stroke-width="0.6"/><path d="M414 495.4 H429.4 V497.4 H414 Z" fill="#1a1a1a" stroke-width="0.8"/><path d="M416.4 497.6 V501.4 H428.2 V497.6" fill="#fff" stroke-width="0.9"/><path d="M419 497.8 H425.4 V499.4 H419 Z" fill="#1a1a1a" stroke-width="0.5"/><path d="M417.2 501.4 V504 Q417 505.8 415 506 L359 512.2 V515.9 L416 509.6 Q420 509 420.2 505 V501.4" fill="#fff" stroke-width="0.9"/><path d="M427.6 501.4 V504 Q427.8 506.4 430.4 507 L501 519.2 V522.8 L429.4 510.4 Q424.6 509.4 424.6 505 V501.4" fill="#fff" stroke-width="0.9"/><path d="M420.2 501.4 V506.6 Q420.2 508.4 419.4 510.4 L406.6 545.4 L410 546.8 L422.8 512 Q423.8 509.4 423.8 507 V501.4" fill="#fff" stroke-width="0.9"/><path d="M421.9 501.6 V506" stroke-width="0.6"/><path d="M341.6 509.2 L355.4 509.6 Q358 510 358 515.4 Q358 521 355.6 521.6 L341.8 522.6" fill="#fff" stroke-width="1.2"/><ellipse cx="341.7" cy="515.9" rx="3.4" ry="6.5" fill="#1a1a1a" stroke-width="1.2"/><ellipse cx="342.5" cy="515.9" rx="2" ry="4.6" fill="#fff" stroke="none"/><ellipse cx="342.6" cy="516" rx="1" ry="2.4" stroke-width="0.8"/><path d="M338 516.7 L326 517.6" stroke-width="0.7"/><path d="M322 514.4 H326 V521.1 H322 Z" fill="#1a1a1a" stroke-width="0.8"/><path d="M322.2 514.2 L314.6 512.6 Q310 509.6 304.6 510.6 Q297.4 512.6 297.4 519.6 Q297.6 526.6 304.6 528.4 Q310 529 314.4 526.2 L322.2 521.3 Z" fill="#fff" stroke-width="1.4"/><path d="M313.6 512.4 Q316.4 519 313.4 526.4" stroke-width="0.9"/><ellipse cx="304.6" cy="519.5" rx="6.2" ry="7.8" stroke-width="1.1"/><ellipse cx="303.6" cy="519.5" rx="4.2" ry="5.8" stroke-width="1.1"/><ellipse cx="302.8" cy="519.3" rx="2.2" ry="3.4" stroke-width="0.9"/><path d="M300 519.4 H304.4 M302.6 516.8 V522" stroke-width="0.8"/><path d="M518.6 516.7 L503.4 515 Q500.8 515.2 500.8 520.4 Q500.8 525.6 503 526.4 L518.2 530" fill="#fff" stroke-width="1.3"/><ellipse cx="518.6" cy="523.3" rx="2.7" ry="6.6" fill="#fff" stroke-width="1.3"/><ellipse cx="518.2" cy="523.3" rx="1.6" ry="4.6" fill="#444" stroke-width="0.8"/><ellipse cx="518.5" cy="523.2" rx="0.7" ry="2.4" fill="#fff" stroke="none"/><path d="M521.6 523.9 L539 526.7" stroke-width="0.7"/><path d="M538.8 525.2 L545 523.5 V531.3 L538.8 528.2 Z" fill="#1a1a1a" stroke-width="0.9"/><path d="M545 523.9 L555.8 522.2 Q560 520.6 564.4 521.6 Q570.8 524 571 530.4 Q570.8 537 565.4 539.2 Q560.6 540.6 555.8 538 L545 531 Z" fill="#fff" stroke-width="1.1"/><path d="M556 522.6 Q560 520.8 564.6 521.8 Q570.6 524.2 570.8 530.6 Q570.6 533.2 569.6 535.2 Q568.4 529.8 565 527.4 Q561 525 556.4 525.8 Q556 524.2 556 522.6 Z" fill="#1a1a1a" stroke-width="0.5"/><path d="M559.4 523.1 L561.6 522.7 L561.4 524.9 L559.2 525.1 Z M563 523.3 L565.4 523.9 L565 526.1 L562.8 525.5 Z M566.6 525.3 L568.6 526.9 L567.8 528.7 L566.2 527.3 Z" fill="#fff" stroke="none"/><path d="M555.8 523.4 Q553.4 530 556 537" stroke-width="1.3"/><path d="M556.4 529.8 Q562 528.4 567.4 530.4" stroke-width="1.2"/><path d="M556.6 533.6 Q560.6 534.8 566.4 533 M566.6 528.6 Q567.8 531.4 566.4 534.4" stroke-width="0.8"/><path d="M557.6 536 Q562 539.6 567.6 535.4 Q566 538.4 562 539.2 Q559 539.2 557.6 536 Z" fill="#999" stroke="#777" stroke-width="0.6"/><path d="M400.4 548.6 L398 558.4 Q397.6 561 401.4 562.8 Q407 564.8 410.4 562.2 L414 551.6 Q415.6 547 411 544.8 Q405 542.6 401.6 545.2 Q400.2 546.6 400.4 548.6 Z" fill="#fff" stroke-width="1.3"/><path d="M400.6 549.4 Q402.8 552.8 407.6 553.8 Q412 554.4 413.8 552" stroke-width="1"/><ellipse cx="407.6" cy="548.6" rx="4.4" ry="2.8" transform="rotate(18 407.6 548.6)" stroke-width="0.9"/><path d="M408.2 541 L406.2 546.6 Q407.4 548 409.4 547.6 L411.6 541.8" fill="#fff" stroke-width="0.9"/><path d="M402.2 563.8 L401 566.4" stroke-width="0.7"/><path d="M396.8 566.6 Q399.6 565 402.6 567.4 L403 571.4 Q399.6 574 396 571.4 Z" fill="#1a1a1a" stroke-width="0.9"/><ellipse cx="399.8" cy="569.2" rx="1.6" ry="1.1" fill="#777" stroke="none"/><path d="M396 570.6 L390.2 576 Q386.6 580.6 388 584.4 Q390.4 588.8 396.6 588.6 Q402.6 588 405 583.6 Q406.6 579.6 404.6 575.6 L403 571.2 Q399.6 574 396 570.6 Z" fill="#fff" stroke-width="1.4"/><path d="M388.4 581.6 Q389.4 587.6 396.6 587.8 Q402.8 587.4 405 582.6" stroke-width="1.5"/><path d="M390.8 582.6 Q396.6 586.6 403.4 582.6" stroke-width="0.6" stroke="#666"/><path d="M399.2 574.6 L398.2 579" stroke-width="0.7" stroke="#555"/></g>
<g font-family="Liberation Sans, Arial, Helvetica, sans-serif" fill="#111" opacity="0.999">
<text x="141.6" y="83.8" font-size="16">A</text>
<text x="216.2" y="76.8" font-size="16.35">OFF</text>
<text x="287.3" y="55.9" font-size="35" stroke="#111" stroke-width="0.35">B</text>
<text x="156.3" y="141.2" font-size="25" text-anchor="middle" font-family="NanumGothic, Liberation Sans, sans-serif" stroke="#111" stroke-width="1.1" stroke-linejoin="miter">1</text>
<text x="192.8" y="314" font-size="27.3" text-anchor="middle">2</text>
<text x="422.2" y="208.3" font-size="27.3" text-anchor="middle">3</text>
<text x="140" y="690.2" font-size="16.4">C</text>
<text x="216.2" y="681.9" font-size="16">ON</text>
<g fill="#555">
<text x="209.4" y="335" font-size="11.6" textLength="5.7" lengthAdjust="spacingAndGlyphs">N</text>
<text x="209.4" y="370" font-size="11.6" textLength="5.7" lengthAdjust="spacingAndGlyphs">N</text>
<text x="241.4" y="334.7" font-size="11.6" textLength="4.6" lengthAdjust="spacingAndGlyphs">L</text>
<text x="241.4" y="369.7" font-size="11.6" textLength="4.6" lengthAdjust="spacingAndGlyphs">L</text>
</g>
<text x="167.8" y="590.9" font-size="6.6" text-anchor="middle" font-weight="bold" font-style="italic">x2</text>
<text x="291" y="663.5" font-size="8.45" textLength="235.4" lengthAdjust="spacingAndGlyphs">Instrukcja montażu / instalation instructions / Montageanleitung</text>
<text x="291" y="673.9" font-size="8.45" textLength="136" lengthAdjust="spacingAndGlyphs">Żyrandol / Chandelier / Kronleuchter</text>
</g>
</svg></body></html>
